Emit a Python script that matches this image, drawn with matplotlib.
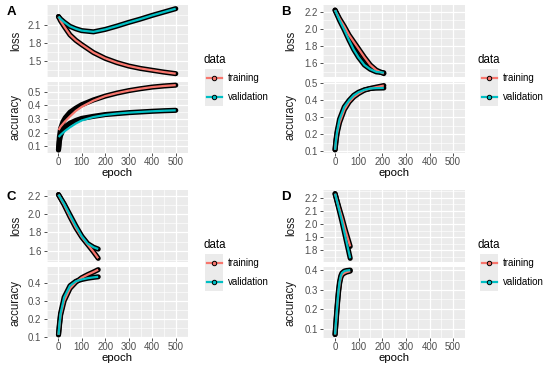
import numpy as np
import matplotlib.pyplot as plt
from matplotlib.lines import Line2D
from matplotlib.patches import Rectangle

plt.rcParams['font.family'] = ['Liberation Sans', 'DejaVu Sans']

W, H = 550, 370
TRAIN_COL = '#F8766D'
VAL_COL = '#00BFC4'
PANEL_BG = '#EBEBEB'

# ---- panel A (500 epochs) ----
a_ep_loss = [1, 10, 25, 50, 75, 100, 150, 200, 250, 300, 350, 400, 450, 500]
a_loss_train = [2.23, 2.16, 2.07, 1.93, 1.84, 1.77, 1.64, 1.545, 1.475, 1.42, 1.38, 1.35, 1.32, 1.295]
a_loss_val = [2.23, 2.19, 2.14, 2.07, 2.03, 2.0, 1.98, 2.02, 2.075, 2.135, 2.19, 2.25, 2.305, 2.36]

a_ep_acc = [1, 5, 10, 20, 30, 50, 75, 100, 150, 200, 250, 300, 350, 400, 450, 500]
a_acc_train = [0.075, 0.17, 0.23, 0.28, 0.31, 0.35, 0.38, 0.405, 0.44, 0.468, 0.49, 0.508, 0.522, 0.534, 0.542, 0.548]
a_acc_train_fit = [0.22, 0.23, 0.245, 0.265, 0.285, 0.32, 0.36, 0.39, 0.435, 0.468, 0.49, 0.508, 0.522, 0.534, 0.542, 0.548]
a_acc_val = [0.075, 0.14, 0.18, 0.22, 0.245, 0.27, 0.29, 0.305, 0.32, 0.333, 0.34, 0.347, 0.352, 0.357, 0.361, 0.364]
a_acc_val_fit = [0.17, 0.175, 0.185, 0.2, 0.215, 0.24, 0.268, 0.29, 0.315, 0.33, 0.34, 0.347, 0.352, 0.357, 0.361, 0.364]

# ---- panel B (~207 epochs) ----
b_ep_loss = [1, 20, 40, 60, 80, 100, 125, 150, 175, 207]
b_loss_train = [2.22, 2.12, 2.03, 1.93, 1.85, 1.77, 1.67, 1.58, 1.52, 1.48]
b_loss_val = [2.22, 2.10, 1.99, 1.87, 1.76, 1.67, 1.58, 1.53, 1.50, 1.49]
b_ep_acc = [1, 5, 10, 20, 40, 60, 80, 100, 125, 150, 175, 207]
b_acc_train = [0.11, 0.16, 0.21, 0.27, 0.345, 0.39, 0.42, 0.44, 0.46, 0.47, 0.478, 0.487]
b_acc_val = [0.11, 0.17, 0.22, 0.29, 0.362, 0.40, 0.43, 0.448, 0.462, 0.47, 0.472, 0.473]

# ---- panel C (~170 epochs) ----
c_ep_loss = [1, 25, 50, 75, 100, 125, 150, 170]
c_loss_train = [2.21, 2.10, 1.97, 1.85, 1.75, 1.67, 1.59, 1.52]
c_loss_val = [2.21, 2.11, 1.99, 1.87, 1.76, 1.68, 1.64, 1.62]
c_ep_acc = [1, 5, 10, 25, 50, 75, 100, 125, 150, 170]
c_acc_train = [0.11, 0.16, 0.22, 0.30, 0.37, 0.405, 0.43, 0.447, 0.462, 0.475]
c_acc_val = [0.11, 0.17, 0.23, 0.32, 0.385, 0.41, 0.42, 0.427, 0.432, 0.435]

# ---- panel D (~65 epochs) ----
d_ep_loss = [1, 15, 30, 45, 65]
d_loss_train = [2.23, 2.14, 2.05, 1.95, 1.83]
d_loss_val = [2.23, 2.13, 2.02, 1.90, 1.74]
d_ep_acc = [1, 5, 10, 15, 20, 25, 30, 40, 50, 65]
d_acc_train = [0.07, 0.13, 0.21, 0.28, 0.33, 0.36, 0.375, 0.385, 0.39, 0.395]
d_acc_val = [0.07, 0.14, 0.22, 0.29, 0.34, 0.37, 0.385, 0.395, 0.398, 0.40]

x_ticks = [0, 100, 200, 300, 400, 500]
legend_labels = ['training', 'validation']

fig = plt.figure(figsize=(5.5, 3.7), dpi=100)


def box(x0, y0, x1, y1):
    return [x0 / W, 1 - y1 / H, (x1 - x0) / W, (y1 - y0) / H]


def style(ax, ylim, yticks, show_x):
    ax.set_facecolor(PANEL_BG)
    ax.set_xlim(-25, 525)
    ax.set_ylim(*ylim)
    ax.set_xticks(x_ticks)
    ax.set_xticks(np.arange(-50, 560, 100), minor=True)
    ax.set_yticks(yticks)
    ax.set_yticklabels([f'{t:.1f}' for t in yticks])
    step = yticks[1] - yticks[0]
    minor = np.arange(yticks[0] - step / 2, ylim[1], step)
    ax.set_yticks(minor[minor > ylim[0]], minor=True)
    ax.grid(which='major', color='white', lw=0.9)
    ax.grid(which='minor', color='white', lw=0.45)
    ax.set_axisbelow(True)
    for s in ax.spines.values():
        s.set_visible(False)
    ax.tick_params(which='minor', length=0)
    ax.tick_params(which='major', length=2.2, width=0.6, color='#333333',
                   labelsize=6.9, labelcolor='#4D4D4D', pad=1.5)
    ax.tick_params(axis='x', pad=1.0)
    if not show_x:
        ax.tick_params(axis='x', which='both', bottom=False, labelbottom=False)


def series(ax, ep, raw, fit, col):
    ax.plot(ep, raw, color='black', lw=3.7, solid_capstyle='round',
            solid_joinstyle='round', zorder=2)
    ax.plot(ep, fit, color=col, lw=1.6, solid_capstyle='butt', zorder=3)


def legend(x, y):
    fig.text(x / W, 1 - y / H, 'data', fontsize=8.3, va='center', ha='left')
    for i, (lab, col) in enumerate(zip(legend_labels, [TRAIN_COL, VAL_COL])):
        cy = y + 18.3 + 18.4 * i
        fig.add_artist(Rectangle(((x + 2) / W, 1 - (cy + 9.2) / H), 18 / W, 18.4 / H,
                                 transform=fig.transFigure, facecolor=PANEL_BG,
                                 edgecolor='none'))
        fig.add_artist(Line2D([(x + 3.5) / W, (x + 18.5) / W], [1 - cy / H] * 2,
                              transform=fig.transFigure, color=col, lw=1.6))
        fig.add_artist(Line2D([(x + 11) / W], [1 - cy / H], transform=fig.transFigure,
                              marker='o', ms=3.2, mfc=col, mec='black', mew=0.7,
                              ls='none'))
        fig.text((x + 24.5) / W, 1 - cy / H, lab, fontsize=7.0, va='center', ha='left')


panels = [
    ('A', 0, 0, 46.5, 187.5,
     (a_ep_loss, a_loss_train, a_loss_val, a_loss_train, a_loss_val), (1.24, 2.42), [1.5, 1.8, 2.1],
     (a_ep_acc, a_acc_train, a_acc_val, a_acc_train_fit, a_acc_val_fit), (0.052, 0.571), [0.1, 0.2, 0.3, 0.4, 0.5]),
    ('B', 275, 0, 323, 465,
     (b_ep_loss, b_loss_train, b_loss_val, b_loss_train, b_loss_val), (1.44, 2.28), [1.6, 1.8, 2.0, 2.2],
     (b_ep_acc, b_acc_train, b_acc_val, b_acc_train, b_acc_val), (0.091, 0.508), [0.1, 0.2, 0.3, 0.4, 0.5]),
    ('C', 0, 185, 46.5, 187.5,
     (c_ep_loss, c_loss_train, c_loss_val, c_loss_train, c_loss_val), (1.48, 2.26), [1.6, 1.8, 2.0, 2.2],
     (c_ep_acc, c_acc_train, c_acc_val, c_acc_train, c_acc_val), (0.092, 0.49), [0.1, 0.2, 0.3, 0.4]),
    ('D', 275, 185, 323, 465,
     (d_ep_loss, d_loss_train, d_loss_val, d_loss_train, d_loss_val), (1.712, 2.258), [1.8, 1.9, 2.0, 2.1, 2.2],
     (d_ep_acc, d_acc_train, d_acc_val, d_acc_train, d_acc_val), (0.052, 0.416), [0.1, 0.2, 0.3, 0.4]),
]

for tag, ox, oy, x0, x1, loss, loss_lim, loss_ticks, acc, acc_lim, acc_ticks in panels:
    ax_l = fig.add_axes(box(x0, oy + 5, x1, oy + 77))
    ax_a = fig.add_axes(box(x0, oy + 82, x1, oy + 153))
    for ax, d, lim, ticks, show_x in [(ax_l, loss, loss_lim, loss_ticks, False),
                                      (ax_a, acc, acc_lim, acc_ticks, True)]:
        style(ax, lim, ticks, show_x)
        ep, tr, va, tr_fit, va_fit = d
        series(ax, ep, tr, tr_fit, TRAIN_COL)
        series(ax, ep, va, va_fit, VAL_COL)

    fig.text((ox + 16) / W, 1 - (oy + 41) / H, 'loss', rotation=90, fontsize=8.3,
             color='#1A1A1A', ha='center', va='center')
    fig.text((ox + 15.5) / W, 1 - (oy + 117.5) / H, 'accuracy', rotation=90, fontsize=8.3,
             color='#1A1A1A', ha='center', va='center')
    fig.text((x0 + x1) / 2 / W, 1 - (oy + 176) / H, 'epoch', fontsize=8.2,
             ha='center', va='baseline')
    fig.text((ox + 6.5) / W, 1 - (oy + 11.7) / H, tag, fontsize=9.5, fontweight='bold',
             ha='left', va='center')
    legend(ox + 203, oy + 60)

fig.savefig('out.png', dpi=100)
